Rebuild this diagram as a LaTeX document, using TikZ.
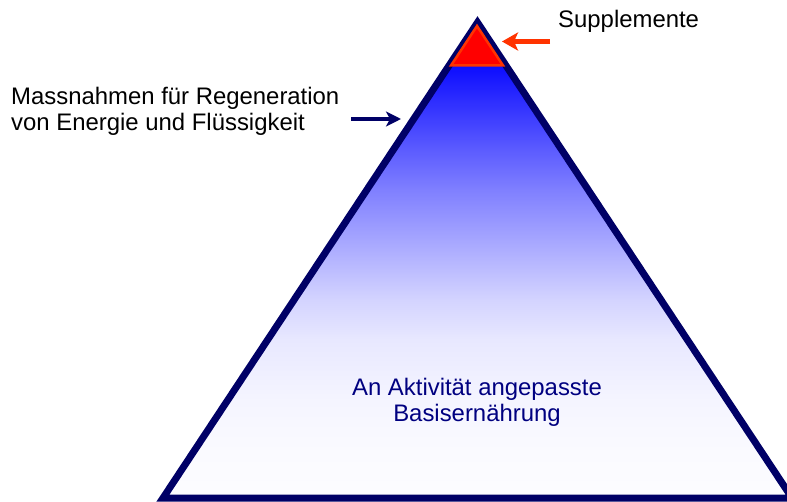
\documentclass[tikz,border=0pt]{standalone}
\usepackage{fontspec}
\setmainfont{Liberation Sans}
\usetikzlibrary{arrows.meta}
\definecolor{pyrnavy}{RGB}{0,0,102}
\definecolor{txtnavy}{RGB}{0,0,128}
\definecolor{suppred}{RGB}{255,0,0}
\definecolor{supporange}{RGB}{255,51,0}
\pgfdeclareverticalshading{pyrshade}{100bp}{%
  color(0bp)=(blue!1!white);
  color(25bp)=(blue!1!white);
  color(30.56bp)=(blue!2!white);
  color(36.34bp)=(blue!4!white);
  color(43.29bp)=(blue!9!white);
  color(47.92bp)=(blue!17!white);
  color(60.65bp)=(blue!50!white);
  color(65.28bp)=(blue!64!white);
  color(75bp)=(blue!95!white);
  color(100bp)=(blue!95!white)}
\begin{document}
\begin{tikzpicture}[x=1pt,y=1pt,
  lbl/.style={inner sep=0pt, font=\fontsize{23.9}{26}\selectfont},
  pyrline/.style={draw=pyrnavy, line width=7pt, line join=miter},
  supptri/.style={fill=suppred, draw=supporange, line width=2.5pt, line join=miter},
  redarrow/.style={draw=supporange, line width=5pt, -{Stealth[length=16pt,width=18pt,inset=4pt]}},
  navyarrow/.style={draw=pyrnavy, line width=4.5pt, -{Stealth[length=15pt,width=15pt,inset=4pt]}}]
\useasboundingbox (0,0) rectangle (787,501);
% pyramid
\coordinate (apex) at (477.5,478.5);
\coordinate (bl) at (163,3);
\coordinate (br) at (792,3);
\coordinate (bandl) at (448.7,435);
\coordinate (bandr) at (506.3,435);
\shade[shading=pyrshade] (bandl) -- (bandr) -- (br) -- (bl) -- cycle;
\draw[pyrline] (apex) -- (br) -- (bl) -- cycle;
% supplement tip
\coordinate (sapex) at (477,475);
\coordinate (sbr) at (503,435.5);
\coordinate (sbl) at (451,435.5);
\filldraw[supptri] (sapex) -- (sbr) -- (sbl) -- cycle;
% labels
\node[lbl, anchor=base west] (supp) at (558,473) {Supplemente};
\node[lbl, anchor=base west] (massA) at (11,396) {Massnahmen für Regeneration};
\node[lbl, anchor=base west] (massB) at (11,370) {von Energie und Flüssigkeit};
\node[lbl, anchor=base, text=txtnavy] (basisA) at (477,106) {An Aktivität angepasste};
\node[lbl, anchor=base, text=txtnavy] (basisB) at (477,79.5) {Basisernährung};
% arrows
\coordinate (suppstart) at (550,459.5);
\coordinate (supptip) at (502,459.5);
\draw[redarrow] (suppstart) -- (supptip);
\coordinate (massstart) at (351,382);
\coordinate (masstip) at (401,382);
\draw[navyarrow] (massstart) -- (masstip);
\end{tikzpicture}
\end{document}
